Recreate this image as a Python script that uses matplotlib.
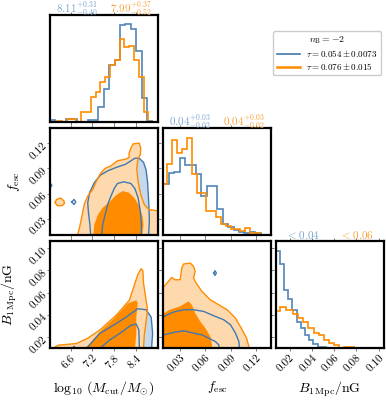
import numpy as np
import matplotlib.pyplot as plt

plt.rcParams['font.family'] = 'serif'
plt.rcParams['font.serif'] = ['cmr10']
plt.rcParams['mathtext.fontset'] = 'cm'
plt.rcParams['axes.unicode_minus'] = False
plt.rcParams['axes.formatter.use_mathtext'] = True

BLUE = '#3f78b0'
ORANGE = '#ff8c00'
LBLUE = '#c6d8ec'
LORANGE = '#ffd9ae'

# axis ranges and ticks
mcut_range = (6.02, 9.0)
fesc_range = (0.0104, 0.1376)
b_range_y = (0.010, 0.106)
b_range_x = (0.0075, 0.1045)
mcut_ticks = [6.6, 7.2, 7.8, 8.4]
fesc_ticks = [0.03, 0.06, 0.09, 0.12]
b_ticks = [0.02, 0.04, 0.06, 0.08, 0.10]
mcut_ticklabels = ['6.6', '7.2', '7.8', '8.4']
fesc_ticklabels = ['0.03', '0.06', '0.09', '0.12']
b_ticklabels = ['0.02', '0.04', '0.06', '0.08', '0.10']

# 1D histograms (bin edges, heights)
mcut_blue_edges = np.linspace(6.02, 9.0, 21)
mcut_blue_h = [8, 0, 0, 10, 10, 0, 0, 8, 8, 45, 100, 170, 185, 291, 294, 278, 212, 74, 5, 0]
mcut_orange_edges = np.linspace(6.092, 8.745, 21)
mcut_orange_h = [2, 5, 0, 10, 10, 2, 32, 32, 75, 92, 122, 135, 170, 185, 248, 226, 228, 185, 134, 30]

fesc_blue_edges = np.linspace(0.0104, 0.1377, 21)
fesc_blue_h = [154, 187, 190, 230, 210, 210, 184, 117, 147, 147, 80, 35, 25, 17, 10, 7, 10, 7, 2, 0]
fesc_orange_edges = np.linspace(0.00945, 0.1241, 21)
fesc_orange_h = [154, 214, 284, 247, 257, 292, 182, 127, 127, 72, 72, 54, 34, 27, 20, 20, 14, 22, 7, 7]

b_blue_edges = [0.00743, 0.01119, 0.01496, 0.01872, 0.02248, 0.02625, 0.03001,
                0.03378, 0.03754, 0.04130, 0.04507, 0.04883, 0.05260]
b_blue_h = [290, 252, 175, 147, 115, 78, 62, 40, 25, 12, 5, 3]
b_orange_edges = [0.00683, 0.01161, 0.01699, 0.02296, 0.02744, 0.03192, 0.03670, 0.04148, 0.04626,
                  0.05104, 0.05582, 0.06030, 0.06478, 0.06926, 0.07374, 0.07822, 0.08569]
b_orange_h = [112, 125, 115, 102, 92, 78, 62, 45, 40, 25, 15, 10, 2, 4, 4, 2]

# 2D credible contours (Mcut, fesc)
mf_orange_outer = [(6.75, 0.005), (6.84, 0.019), (6.89, 0.029), (6.93, 0.038), (6.98, 0.048), (7.07, 0.057),
                   (7.21, 0.065), (7.30, 0.074), (7.42, 0.084), (7.55, 0.090), (7.71, 0.093), (7.89, 0.099),
                   (8.12, 0.101), (8.21, 0.103), (8.21, 0.108), (8.26, 0.114), (8.32, 0.119), (8.49, 0.120),
                   (8.53, 0.114), (8.52, 0.106), (8.46, 0.102), (8.42, 0.090), (8.46, 0.074), (8.53, 0.059),
                   (8.63, 0.047), (8.76, 0.041), (8.92, 0.040), (9.1, 0.039), (9.1, 0.005)]
mf_orange_inner = [(7.21, 0.005), (7.25, 0.023), (7.35, 0.035), (7.48, 0.043), (7.67, 0.050), (7.85, 0.058),
                   (8.03, 0.063), (8.21, 0.061), (8.37, 0.054), (8.49, 0.045), (8.58, 0.033), (8.61, 0.023),
                   (8.55, 0.005)]
mf_orange_island = [(6.17, 0.0495), (6.21, 0.0531), (6.32, 0.0547), (6.41, 0.0515), (6.43, 0.0483),
                    (6.36, 0.0456), (6.23, 0.0456)]
mf_blue_outer = [(7.16, 0.005), (7.13, 0.023), (7.09, 0.037), (7.07, 0.049), (7.12, 0.061), (7.25, 0.073),
                 (7.42, 0.082), (7.62, 0.087), (7.85, 0.091), (8.12, 0.095), (8.37, 0.102), (8.49, 0.102),
                 (8.61, 0.097), (8.68, 0.088), (8.72, 0.074), (8.74, 0.059), (8.76, 0.043), (8.77, 0.027),
                 (8.74, 0.005)]
mf_blue_inner = [(7.44, 0.005), (7.48, 0.023), (7.55, 0.035), (7.62, 0.047), (7.71, 0.057), (7.80, 0.066),
                 (7.89, 0.072), (8.06, 0.074), (8.26, 0.072), (8.37, 0.066), (8.46, 0.055), (8.52, 0.039),
                 (8.55, 0.023), (8.55, 0.005)]
mf_blue_islands = [[(6.63, 0.050), (6.69, 0.053), (6.74, 0.050), (6.69, 0.047)],
                   [(5.98, 0.0697), (6.03, 0.0727), (6.08, 0.0697), (6.03, 0.0667)]]

# (Mcut, B)
mb_orange_outer = [(6.17, 0.005), (6.17, 0.0113), (6.26, 0.0128), (6.76, 0.0143), (7.07, 0.0191),
                   (7.40, 0.0263), (7.86, 0.0398), (8.22, 0.0532), (8.37, 0.0682), (8.45, 0.0760),
                   (8.54, 0.0814), (8.59, 0.0796), (8.61, 0.0682), (8.68, 0.0532), (8.72, 0.0446),
                   (8.68, 0.0341), (8.63, 0.0221), (8.60, 0.005)]
mb_orange_inner = [(6.99, 0.005), (6.99, 0.0098), (7.13, 0.0143), (7.40, 0.0248), (7.81, 0.0371),
                   (8.18, 0.0503), (8.41, 0.0532), (8.45, 0.0503), (8.41, 0.0383), (8.41, 0.0233),
                   (8.36, 0.005)]
mb_blue_outer = [(7.00, 0.005), (7.03, 0.0098), (7.40, 0.0233), (7.86, 0.0323), (8.13, 0.0380),
                 (8.45, 0.0455), (8.68, 0.0446), (8.82, 0.0380), (8.86, 0.0233), (8.82, 0.005)]
mb_blue_inner = [(7.40, 0.005), (7.40, 0.0098), (7.67, 0.0173), (7.95, 0.0233), (8.27, 0.0308),
                 (8.41, 0.0317), (8.48, 0.0263), (8.50, 0.005)]
mb_blue_islands = [[(6.675, 0.0095), (6.69, 0.0118), (6.705, 0.0095)]]

# (fesc, B)
fb_orange_outer = [(0.005, 0.005), (0.005, 0.0655), (0.0112, 0.0655), (0.0164, 0.0700), (0.0203, 0.0736),
                   (0.0243, 0.0715), (0.0302, 0.0715), (0.0322, 0.0820), (0.0342, 0.0856), (0.0421, 0.0865),
                   (0.0460, 0.0835), (0.0480, 0.0790), (0.0460, 0.0730), (0.0492, 0.0685), (0.0559, 0.0610),
                   (0.0658, 0.0535), (0.0757, 0.0491), (0.0855, 0.0446), (0.0954, 0.0371), (0.1033, 0.0266),
                   (0.1085, 0.0191), (0.1112, 0.0116), (0.1124, 0.005)]
fb_orange_inner = [(0.005, 0.005), (0.005, 0.0416), (0.0112, 0.0416), (0.0182, 0.0446), (0.0302, 0.0476),
                   (0.0401, 0.0521), (0.0440, 0.0491), (0.0480, 0.0416), (0.0539, 0.0341), (0.0599, 0.0281),
                   (0.0658, 0.0206), (0.0678, 0.0131), (0.0689, 0.005)]
fb_blue_outer = [(0.005, 0.005), (0.005, 0.039), (0.0112, 0.0386), (0.0223, 0.0425), (0.0342, 0.0446),
                 (0.0460, 0.0446), (0.0579, 0.0431), (0.0717, 0.0386), (0.0816, 0.0356), (0.0895, 0.0311),
                 (0.0954, 0.0236), (0.0994, 0.0161), (0.1006, 0.005)]
fb_blue_inner = [(0.005, 0.005), (0.005, 0.022), (0.0112, 0.0221), (0.0223, 0.0242), (0.0342, 0.0257),
                 (0.0460, 0.0236), (0.0559, 0.0221), (0.0638, 0.0191), (0.0717, 0.0161), (0.0757, 0.0131),
                 (0.0776, 0.005)]
fb_blue_islands = [[(0.0697, 0.0775), (0.0713, 0.0796), (0.0729, 0.0775), (0.0713, 0.0754)]]

titles_blue = [r'$8.11^{+0.31}_{-0.40}$', r'$0.04^{+0.03}_{-0.02}$', r'$<0.04$']
titles_orange = [r'$7.99^{+0.37}_{-0.52}$', r'$0.04^{+0.03}_{-0.02}$', r'$<0.06$']
labels = [r'$\log_{10}\,(M_{\rm cut}/M_{\odot})$', r'$f_{\rm esc}$', r'$B_{1\,{\rm Mpc}}/{\rm nG}$']


def closed(poly):
    pts = np.array(poly + [poly[0]])
    return pts[:, 0], pts[:, 1]


def draw_2d(ax, b_outer, b_inner, o_outer, o_inner, o_islands, b_islands):
    x, y = closed(b_outer)
    ax.fill(x, y, color=LBLUE, lw=0)
    x, y = closed(o_outer)
    ax.fill(x, y, color=LORANGE, lw=0)
    for isl in o_islands:
        x, y = closed(isl)
        ax.fill(x, y, color=LORANGE, lw=0)
    x, y = closed(o_inner)
    ax.fill(x, y, color=ORANGE, lw=0)
    for poly in [b_outer, b_inner] + b_islands:
        x, y = closed(poly)
        ax.plot(x, y, color=BLUE, lw=1.0)
    for poly in [o_outer] + o_islands:
        x, y = closed(poly)
        ax.plot(x, y, color=ORANGE, lw=1.0)


fig = plt.figure(figsize=(3.86, 4.0), dpi=100)
W, H = 386.0, 400.0
lefts = [49.7, 163.3, 275.7]
tops = [15.3, 128.3, 241.3]
axes = {}
for i in range(3):
    for j in range(i + 1):
        axes[i, j] = fig.add_axes([lefts[j] / W, 1 - (tops[i] + 107) / H, 108 / W, 107 / H])

xranges = [mcut_range, fesc_range, b_range_x]
yranges = [None, fesc_range, b_range_y]
ticks = [mcut_ticks, fesc_ticks, b_ticks]
ticklabels = [mcut_ticklabels, fesc_ticklabels, b_ticklabels]

# diagonal histograms
hists = [(mcut_blue_edges, mcut_blue_h, mcut_orange_edges, mcut_orange_h),
         (fesc_blue_edges, fesc_blue_h, fesc_orange_edges, fesc_orange_h),
         (b_blue_edges, b_blue_h, b_orange_edges, b_orange_h)]
for k in range(3):
    ax = axes[k, k]
    be, bh, oe, oh = hists[k]
    ax.stairs(bh, be, color=BLUE, lw=1.2, alpha=0.9)
    ax.stairs(oh, oe, color=ORANGE, lw=1.2)
    ax.set_ylim(0, 320)
    ax.set_yticks([])
    ax.text(0.25, 1.058, titles_blue[k], transform=ax.transAxes, ha='center', va='center',
            color='#7ea6d2', fontsize=8)
    ax.text(0.75, 1.058, titles_orange[k], transform=ax.transAxes, ha='center', va='center',
            color='#f9a23c', fontsize=8)

draw_2d(axes[1, 0], mf_blue_outer, mf_blue_inner, mf_orange_outer, mf_orange_inner,
        [mf_orange_island], mf_blue_islands)
draw_2d(axes[2, 0], mb_blue_outer, mb_blue_inner, mb_orange_outer, mb_orange_inner, [], mb_blue_islands)
draw_2d(axes[2, 1], fb_blue_outer, fb_blue_inner, fb_orange_outer, fb_orange_inner, [], fb_blue_islands)

for (i, j), ax in axes.items():
    ax.set_xlim(*xranges[j])
    ax.set_xticks(ticks[j])
    if i != j:
        ax.set_ylim(*yranges[i])
        ax.set_yticks(ticks[i])
    for s in ax.spines.values():
        s.set_linewidth(1.6)
    ax.tick_params(direction='out', length=2.5, width=0.6, color='#666666', labelsize=8,
                   top=True, right=(i != j), pad=1)
    if i == 2:
        ax.set_xticklabels(ticklabels[j], rotation=45, ha='right', rotation_mode='anchor')
        ax.set_xlabel(labels[j], fontsize=10)
        ax.xaxis.set_label_coords(0.5, -0.29)
    else:
        ax.set_xticklabels([])
    if j == 0 and i > 0:
        ax.set_yticklabels(ticklabels[i], rotation=45, ha='right', rotation_mode='anchor')
        ax.set_ylabel(labels[i], fontsize=10)
    elif i != j:
        ax.set_yticklabels([])

axes[1, 0].yaxis.set_label_coords(-0.26, 0.5)
axes[2, 0].yaxis.set_label_coords(-0.28, 0.5)

handles = [plt.Line2D([], [], color=BLUE, lw=1.2), plt.Line2D([], [], color=ORANGE, lw=1.8)]
fig.legend(handles, [r'$\tau = 0.054 \pm 0.0073$', r'$\tau = 0.076 \pm 0.015$'],
           title=r'$n_{\rm B} = -2$', loc='upper right', bbox_to_anchor=(381 / W, 1 - 31 / H),
           borderaxespad=0, fontsize=6.5, title_fontsize=7, handlelength=2.6, handletextpad=0.6,
           borderpad=0.4, labelspacing=0.2, framealpha=1, edgecolor='#cccccc')

fig.savefig('out.png', dpi=100)
